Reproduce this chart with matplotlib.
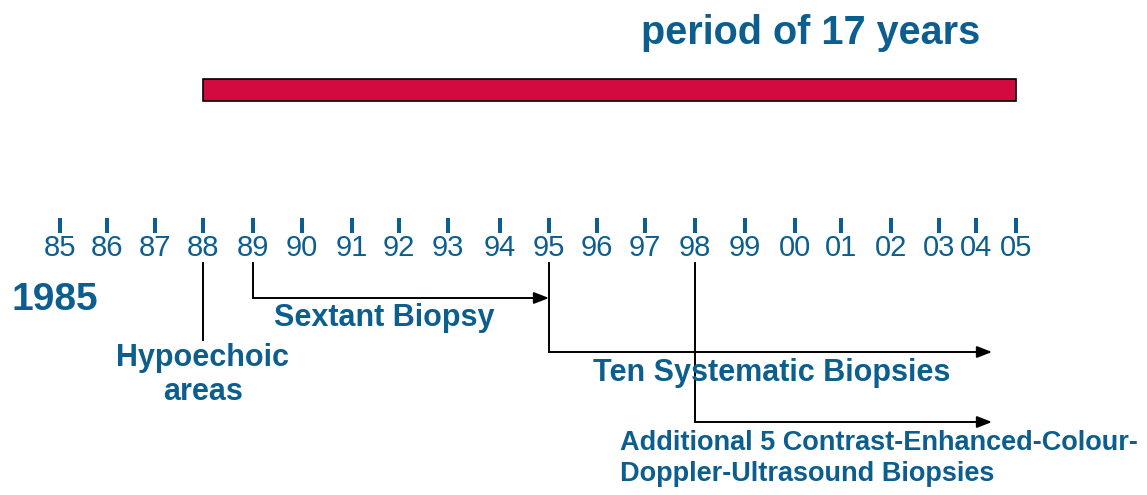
import matplotlib.pyplot as plt
from matplotlib.patches import Rectangle

plt.rcParams['font.family'] = ['Liberation Sans', 'DejaVu Sans']

BLUE = '#0b5e8e'
RED = '#d30a40'

# timeline ticks: labels and their x positions on the slide
year_labels = ['85', '86', '87', '88', '89', '90', '91', '92', '93', '94', '95',
               '96', '97', '98', '99', '00', '01', '02', '03', '04', '05']
year_x = [60, 107, 155, 203, 253, 302, 352, 399, 448, 500, 549,
          597, 645, 695, 745, 795, 841, 891, 939, 976, 1016]

# period bar (start year, end year)
period_start = '88'
period_end = '05'
period_title = 'period of 17 years'

fig = plt.figure(figsize=(11.47, 4.95), dpi=100)
ax = fig.add_axes([0, 0, 1, 1])
ax.set_xlim(0, 1147)
ax.set_ylim(495, 0)
ax.axis('off')

pos = dict(zip(year_labels, year_x))

# red bar showing the 17 year period
x0, x1 = pos[period_start], pos[period_end]
ax.add_patch(Rectangle((x0, 79), x1 - x0, 22, facecolor=RED,
                       edgecolor='black', linewidth=1.2))
ax.text(811, 33, period_title, ha='center', va='center',
        fontsize=28.5, fontweight='bold', color=BLUE)

# ticks and year labels
for lab, x in zip(year_labels, year_x):
    ax.add_patch(Rectangle((x - 2, 218), 4, 15, facecolor=BLUE, edgecolor='none'))
    ax.text(x, 248, lab, ha='center', va='center', fontsize=21, color=BLUE)

ax.text(12, 300, '1985', ha='left', va='center', fontsize=28,
        fontweight='bold', color=BLUE)

lw = 1.4
arrow_end = 992


def elbow(xs, y, xe):
    ax.plot([xs, xs, xe - 12], [263, y, y], color='black', lw=lw,
            solid_joinstyle='miter')
    ax.annotate('', xy=(xe, y), xytext=(xe - 14, y),
                arrowprops=dict(arrowstyle='-|>,head_length=0.9,head_width=0.35',
                                color='black', lw=lw, shrinkA=0, shrinkB=0))


# hypoechoic areas (1988)
ax.plot([pos['88'], pos['88']], [263, 340], color='black', lw=lw)
ax.text(pos['88'], 358, 'Hypoechoic', ha='center', va='center',
        fontsize=22, fontweight='bold', color=BLUE)
ax.text(pos['88'], 392, 'areas', ha='center', va='center',
        fontsize=22, fontweight='bold', color=BLUE)

# sextant biopsy (1989 -> 1995)
elbow(pos['89'], 298, pos['95'])
ax.text(384, 318, 'Sextant Biopsy', ha='center', va='center',
        fontsize=22, fontweight='bold', color=BLUE)

# ten systematic biopsies (1995 ->)
elbow(pos['95'], 352, arrow_end)
ax.text(772, 373, 'Ten Systematic Biopsies', ha='center', va='center',
        fontsize=22, fontweight='bold', color=BLUE)

# additional contrast enhanced biopsies (1998 ->)
elbow(pos['98'], 422, arrow_end)
ax.text(620, 443, 'Additional 5 Contrast-Enhanced-Colour-', ha='left',
        va='center', fontsize=19.5, fontweight='bold', color=BLUE)
ax.text(620, 474, 'Doppler-Ultrasound Biopsies', ha='left',
        va='center', fontsize=19.5, fontweight='bold', color=BLUE)

fig.savefig('out.png', dpi=100)
